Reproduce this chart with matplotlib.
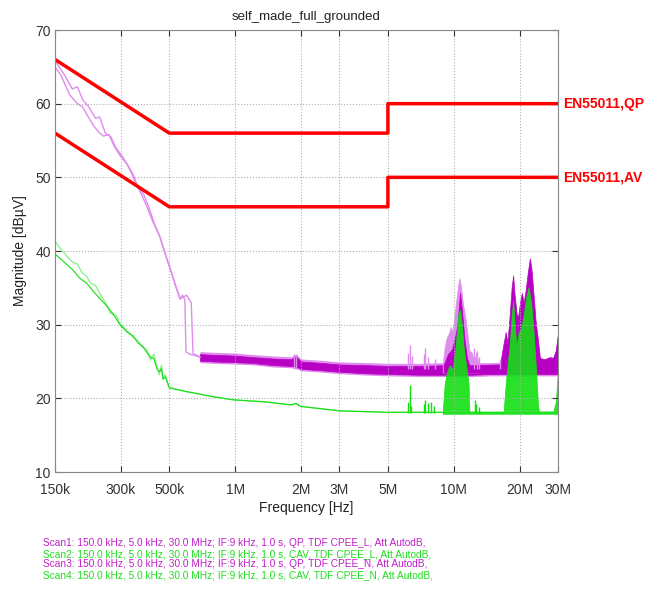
import matplotlib
matplotlib.use("Agg")
import matplotlib.pyplot as plt

plt.rcParams['font.family'] = ['Liberation Sans', 'DejaVu Sans']

# limit lines (EN55011 class B)
qp_f = [150e3, 500e3, 5e6, 5e6, 30e6]
qp_db = [66, 56, 56, 60, 60]
av_f = [150e3, 500e3, 5e6, 5e6, 30e6]
av_db = [56, 46, 46, 50, 50]

# QP scans, low-frequency part
scan1_f = [150e3, 165e3, 180e3, 190e3, 201e3, 215e3, 230e3, 240e3, 255e3, 270e3, 285e3,
           297e3, 310e3, 325e3, 340e3, 356e3, 375e3, 395e3, 420e3, 453e3, 475e3, 493e3,
           520e3, 545e3, 560e3, 575e3, 589e3, 596e3, 620e3, 690e3]
scan1_db = [65.8, 64.0, 62.0, 62.3, 60.5, 59.5, 58.0, 58.2, 56.0, 55.5, 54.0,
            53.3, 52.5, 51.5, 50.5, 49.0, 47.5, 46.0, 44.0, 41.9, 40.0, 38.4,
            36.5, 34.5, 33.5, 34.0, 33.4, 26.3, 26.0, 25.6]
scan3_f = [150e3, 160e3, 175e3, 190e3, 200e3, 215e3, 225e3, 240e3, 250e3, 265e3, 280e3,
           297e3, 320e3, 340e3, 360e3, 380e3, 400e3, 430e3, 450e3, 480e3, 500e3, 530e3,
           560e3, 600e3, 630e3, 642e3, 690e3]
scan3_db = [65.0, 63.8, 61.2, 60.0, 59.6, 58.0, 57.0, 56.0, 55.6, 55.8, 54.2,
            53.0, 51.8, 50.2, 48.5, 47.8, 46.2, 43.5, 42.2, 39.5, 38.0, 35.5,
            33.5, 34.0, 33.0, 26.1, 25.6]

# QP noise floor envelope (both scans)
qp_band_f = [690e3, 800e3, 1.0e6, 1.2e6, 1.5e6, 1.8e6, 1.9e6, 2.0e6, 2.5e6, 3.0e6,
             4.0e6, 5.0e6, 7.0e6, 9.0e6, 12e6, 15e6, 20e6, 25e6, 30e6]
qp_band_lo = [25.1, 25.0, 24.9, 24.8, 24.5, 24.4, 24.3, 24.0, 23.8, 23.6,
              23.4, 23.3, 23.2, 23.2, 23.2, 23.3, 23.3, 23.3, 23.3]
qp_band_hi = [26.0, 25.9, 25.8, 25.6, 25.4, 25.3, 25.7, 25.0, 24.8, 24.6,
              24.5, 24.4, 24.4, 24.5, 24.5, 24.5, 24.6, 24.7, 24.7]

# QP emission clusters: scan1 (light) and scan3 (dark) upper envelopes
qp1_peak_f = [8.9e6, 9.1e6, 9.3e6, 9.5e6, 9.7e6, 9.9e6, 10.1e6, 10.3e6, 10.5e6, 10.6e6,
              10.8e6, 11.0e6, 11.3e6, 11.6e6, 11.8e6, 12.1e6, 12.4e6, 12.7e6, 12.9e6, 13.1e6]
qp1_peak_db = [24.5, 27.0, 28.3, 28.8, 29.7, 29.0, 31.5, 33.5, 35.5, 36.3,
               35.2, 33.0, 31.0, 28.3, 26.5, 26.2, 25.0, 26.2, 25.0, 24.5]
qp3_peak_f = [9.0e6, 9.4e6, 9.8e6, 10.1e6, 10.4e6, 10.7e6, 10.9e6, 11.2e6, 11.5e6, 11.8e6,
              16.3e6, 16.8e6, 17.3e6, 17.6e6, 18.0e6, 18.4e6, 18.7e6, 19.0e6, 19.4e6,
              19.7e6, 20.1e6, 20.5e6, 20.9e6, 21.3e6, 21.8e6, 22.3e6, 22.7e6, 23.2e6,
              23.7e6, 24.3e6, 24.8e6, 26.0e6, 27.5e6, 28.5e6, 29.3e6, 30e6]
qp3_peak_db = [24.5, 26.0, 26.6, 28.0, 30.0, 34.3, 32.0, 28.0, 25.5, 24.5,
               24.6, 27.0, 29.0, 27.5, 31.0, 35.0, 36.7, 34.0, 31.5,
               31.0, 33.0, 34.3, 33.0, 34.5, 37.0, 39.0, 37.5, 34.0,
               30.5, 27.9, 25.5, 25.3, 25.6, 25.5, 26.5, 28.9]
qp_spike_f = [1.85e6, 1.9e6, 6.2e6, 6.3e6, 6.45e6, 7.3e6, 7.4e6, 7.6e6, 8.2e6,
              12.4e6, 12.8e6, 13.1e6, 16.2e6]
qp_spike_db = [26.0, 25.8, 26.2, 27.2, 25.8, 26.0, 26.8, 25.6, 25.4,
               26.8, 26.4, 25.6, 25.4]

# CAV scans, low-frequency part
scan2_f = [150e3, 160e3, 170e3, 180e3, 190e3, 200e3, 210e3, 217e3, 230e3, 241e3, 255e3,
           268e3, 285e3, 297e3, 320e3, 341e3, 360e3, 380e3, 395e3, 410e3, 425e3, 439e3,
           450e3, 460e3, 468e3, 480e3, 493e3, 500e3, 602e3, 800e3, 978e3, 1.4e6,
           1.8e6, 1.9e6, 2.0e6, 3.0e6, 5.0e6, 30e6]
scan2_db = [41.3, 40.2, 39.3, 38.5, 38.2, 37.0, 36.5, 35.7, 35.3, 34.2, 33.0,
            31.6, 31.3, 30.2, 29.2, 28.3, 27.8, 26.8, 26.6, 25.2, 26.0, 24.3,
            23.2, 24.5, 22.8, 23.2, 21.8, 21.5, 20.9, 20.2, 19.8, 19.5,
            19.1, 19.3, 18.9, 18.3, 18.1, 18.1]
scan4_f = [150e3, 165e3, 180e3, 195e3, 210e3, 225e3, 241e3, 260e3, 280e3, 297e3,
           320e3, 341e3, 360e3, 380e3, 395e3, 410e3, 425e3, 439e3, 450e3, 460e3, 468e3,
           480e3, 493e3, 500e3, 602e3, 800e3, 978e3, 1.4e6, 1.8e6, 1.9e6, 2.0e6,
           3.0e6, 5.0e6, 30e6]
scan4_db = [39.6, 38.5, 37.5, 36.3, 35.6, 34.5, 33.5, 32.5, 31.2, 30.0,
            29.0, 28.5, 27.5, 27.0, 26.2, 25.6, 25.4, 24.0, 23.6, 24.0, 22.6,
            22.9, 22.0, 21.4, 20.9, 20.2, 19.8, 19.5, 19.1, 19.3, 18.9,
            18.3, 18.1, 18.1]

# CAV emission clusters, upper envelope
cav_peak_f = [8.9e6, 9.1e6, 9.3e6, 9.6e6, 9.9e6, 10.2e6, 10.5e6, 10.7e6, 10.9e6, 11.1e6,
              11.4e6, 11.7e6, 11.8e6, 16.9e6, 17.3e6, 17.6e6, 18.0e6, 18.4e6, 18.7e6,
              19.0e6, 19.4e6, 19.8e6, 20.3e6, 20.8e6, 21.4e6, 22.0e6, 22.6e6, 23.2e6,
              23.8e6, 24.3e6, 24.6e6, 28.5e6, 29.3e6, 30e6]
cav_peak_db = [18.1, 22.0, 23.5, 24.5, 24.0, 27.0, 31.5, 32.0, 30.0, 27.0,
               24.5, 22.0, 18.2, 18.1, 22.0, 24.3, 27.0, 31.0, 33.3,
               30.0, 27.0, 28.9, 29.5, 31.0, 33.5, 35.1, 33.0, 29.0,
               24.0, 19.0, 18.2, 18.2, 19.5, 23.9]
cav_spike_f = [6.2e6, 6.3e6, 6.4e6, 7.3e6, 7.4e6, 7.6e6, 7.9e6, 8.1e6, 12.5e6, 12.7e6, 13.0e6]
cav_spike_db = [19.5, 21.8, 19.0, 19.2, 19.8, 19.4, 19.5, 18.9, 19.8, 19.2, 18.8]

xticks = [150e3, 300e3, 500e3, 1e6, 2e6, 3e6, 5e6, 10e6, 20e6, 30e6]
xtick_labels = ['150k', '300k', '500k', '1M', '2M', '3M', '5M', '10M', '20M', '30M']
scan_texts = [
    'Scan1: 150.0 kHz, 5.0 kHz, 30.0 MHz; IF:9 kHz, 1.0 s, QP, TDF CPEE_L, Att AutodB,',
    'Scan2: 150.0 kHz, 5.0 kHz, 30.0 MHz; IF:9 kHz, 1.0 s, CAV, TDF CPEE_L, Att AutodB,',
    'Scan3: 150.0 kHz, 5.0 kHz, 30.0 MHz; IF:9 kHz, 1.0 s, QP, TDF CPEE_N, Att AutodB,',
    'Scan4: 150.0 kHz, 5.0 kHz, 30.0 MHz; IF:9 kHz, 1.0 s, CAV, TDF CPEE_N, Att AutodB,',
]

mag_dark = '#b800c4'
mag_light = '#e08cee'
grn_dark = '#10e010'
grn_light = '#90f090'
scan_colors = ['#c020c8', '#20dd20', '#c020c8', '#20dd20']

fig = plt.figure(figsize=(6.65, 5.94), dpi=100)
ax = fig.add_axes([55 / 665, 1 - 472 / 594, 503 / 665, 442 / 594])
ax.set_xscale('log')

# QP (magenta)
ax.plot(scan1_f, scan1_db, color=mag_light, lw=1.0)
ax.plot(scan3_f, scan3_db, color=mag_light, lw=1.0)
ax.fill_between(qp_band_f, [v - 0.25 for v in qp_band_lo], [v + 0.35 for v in qp_band_hi],
                color=mag_light, lw=0)
ax.fill_between(qp_band_f, qp_band_lo, qp_band_hi, color=mag_dark, lw=0.5)
ax.fill_between(qp1_peak_f, 23.5, qp1_peak_db, color=mag_light, lw=0.5)
ax.fill_between(qp3_peak_f, 23.5, qp3_peak_db, color=mag_dark, lw=0.5)
ax.vlines(qp_spike_f, 24.0, qp_spike_db, color=mag_light, lw=1.0)

# CAV (green)
ax.plot(scan2_f, scan2_db, color=grn_light, lw=1.0)
ax.plot(scan4_f, scan4_db, color=grn_dark, lw=0.8)
ax.fill_between(cav_peak_f, 17.9, cav_peak_db, color=grn_dark, lw=0.5, alpha=0.9)
ax.vlines(cav_spike_f, 18.0, cav_spike_db, color=grn_dark, lw=1.0)

# limits
ax.plot(qp_f, qp_db, color='#ff0000', lw=2.5)
ax.plot(av_f, av_db, color='#ff0000', lw=2.5)
ax.text(1.01, (qp_db[-1] - 10) / 60, 'EN55011,QP', transform=ax.transAxes,
        color='#ff0000', fontsize=10, fontweight='bold', va='center', ha='left')
ax.text(1.01, (av_db[-1] - 10) / 60, 'EN55011,AV', transform=ax.transAxes,
        color='#ff0000', fontsize=10, fontweight='bold', va='center', ha='left')

ax.set_xlim(150e3, 30e6)
ax.set_ylim(10, 70)
ax.set_xticks(xticks)
ax.set_xticklabels(xtick_labels)
ax.minorticks_off()
ax.set_yticks(range(10, 71, 10))
ax.tick_params(direction='in', top=True, right=True, labelsize=10, colors='#333333',
               length=4, pad=3)
ax.tick_params(axis='x', pad=8)
ax.grid(True, linestyle=':', color='#b0b0b0', lw=0.8)
for s in ax.spines.values():
    s.set_color('#888888')

ax.set_title('self_made_full_grounded', fontsize=9.5, color='#222222', pad=7)
ax.set_xlabel('Frequency [Hz]', fontsize=10, color='#222222', labelpad=3)
ax.set_ylabel('Magnitude [dB\u00b5V]', fontsize=10, color='#222222', labelpad=6)

for i, t in enumerate(scan_texts):
    fig.text(43 / 665, 1 - (543 + 10.7 * i) / 594, t, color=scan_colors[i],
             fontsize=7.3, va='center', ha='left')

fig.savefig('out.png', dpi=100)
